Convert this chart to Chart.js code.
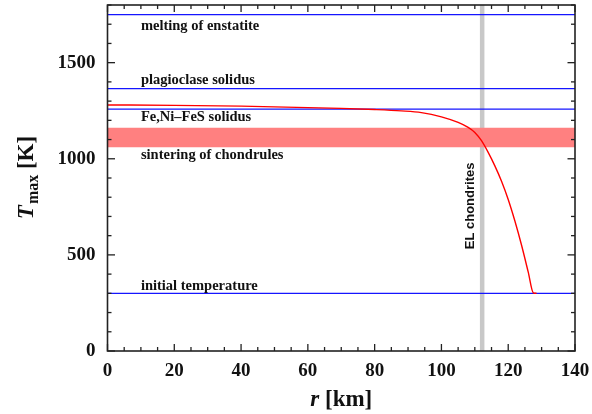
<!DOCTYPE html>
<html>
<head>
<meta charset="utf-8">
<title>Peak temperature profile</title>
<script src="https://cdn.jsdelivr.net/npm/chart.js@4"></script>
<style>
  html, body { margin: 0; padding: 0; background: #fff; }
  #wrap { width: 592px; height: 414px; position: relative; }
</style>
</head>
<body>
<div id="wrap"><canvas id="tmax" width="592" height="414"></canvas></div>
<script>
'use strict';

// peak temperature vs. radius
const radiusKm = [0, 20, 40, 60, 70, 80, 88, 94, 100, 105, 108, 110, 112, 114, 116, 118, 120, 122, 124, 126, 127.5, 128.5];
const tMaxK    = [1280, 1278, 1274, 1266, 1262, 1256, 1249, 1240, 1218, 1189, 1163, 1137, 1094, 1033, 963, 883, 788, 676, 550, 410, 303, 300];

// reference temperatures
const levelNames = ['melting of enstatite', 'plagioclase solidus', 'Fe,Ni\u2013FeS solidus', 'initial temperature'];
const levelTemps = [1750, 1365, 1258, 300];
const sinterName = 'sintering of chondrules';
const sinterBand = [1060, 1162];

// EL chondrite radius
const elName = 'EL chondrites';
const elRadius = 112.2;

const xTicks = [0, 20, 40, 60, 80, 100, 120, 140];
const yTicks = [0, 500, 1000, 1500];
const xRange = [0, 140];
const yRange = [0, 1800];

const SERIF = '"Liberation Serif", "Times New Roman", serif';
const SANS = '"Liberation Sans", Arial, sans-serif';

const seg = (x0, x1, y0, y1) => [{ x: x0, y: y0 }, { x: x1, y: y1 }];

const datasets = [
  { data: seg(elRadius, elRadius, yRange[0], yRange[1]), borderColor: '#c8c8c8', borderWidth: 4.5, order: 10 },
  { data: seg(xRange[0], xRange[1], sinterBand[1], sinterBand[1]), borderWidth: 0, borderColor: 'rgba(0,0,0,0)',
    backgroundColor: '#ff8080', fill: { value: sinterBand[0] }, order: 9 },
  ...levelTemps.map(t => ({ data: seg(xRange[0], xRange[1], t, t), borderColor: '#1515ff', borderWidth: 1.3, order: 5 })),
  { data: radiusKm.map((r, i) => ({ x: r, y: tMaxK[i] })), borderColor: '#ff0000', borderWidth: 1.4,
    cubicInterpolationMode: 'monotone', order: 1 },
];

// no extra room for overhanging tick labels
const noPad = s => { s.paddingTop = 0; s.paddingBottom = 0; s.paddingLeft = 0; s.paddingRight = 0; };

// frame, inward ticks, annotations and axis titles
const decor = {
  id: 'decor',
  afterDatasetsDraw(chart) {
    const { ctx, chartArea: a, scales: { x, y } } = chart;
    ctx.save();
    ctx.strokeStyle = '#222';
    ctx.lineWidth = 1.3;
    const tick = (x0, y0, x1, y1) => { ctx.beginPath(); ctx.moveTo(x0, y0); ctx.lineTo(x1, y1); ctx.stroke(); };
    for (let v = xRange[0]; v <= xRange[1]; v += 5) {
      const px = x.getPixelForValue(v);
      const len = xTicks.includes(v) ? 7 : 4;
      tick(px, a.bottom, px, a.bottom - len);
      tick(px, a.top, px, a.top + len);
    }
    for (let v = yRange[0]; v <= yRange[1]; v += 100) {
      const py = y.getPixelForValue(v);
      const len = yTicks.includes(v) ? 7.5 : 4;
      tick(a.left, py, a.left + len, py);
      tick(a.right, py, a.right - len, py);
    }
    ctx.lineWidth = 1.6;
    ctx.strokeRect(a.left, a.top, a.right - a.left, a.bottom - a.top);

    // level labels, offset above/below their line
    const offsets = [12, -8, 8, -7];
    ctx.fillStyle = '#111';
    ctx.font = 'bold 14.5px ' + SERIF;
    ctx.textAlign = 'left';
    ctx.textBaseline = 'middle';
    const lx = x.getPixelForValue(10);
    levelNames.forEach((name, i) => ctx.fillText(name, lx, y.getPixelForValue(levelTemps[i]) + offsets[i]));
    ctx.fillText(sinterName, lx, y.getPixelForValue(sinterBand[0]) + 8.5);

    // vertical EL chondrites label
    ctx.save();
    ctx.translate(x.getPixelForValue(elRadius) - 11.5, y.getPixelForValue(755));
    ctx.rotate(-Math.PI / 2);
    ctx.font = 'bold 13px ' + SANS;
    ctx.textAlign = 'center';
    ctx.fillText(elName, 0, 0);
    ctx.restore();
    ctx.restore();
  },
  afterDraw(chart) {
    const { ctx, chartArea: a } = chart;
    ctx.save();
    ctx.fillStyle = '#111';
    ctx.textBaseline = 'alphabetic';

    // x title: r [km]
    const big = 23;
    ctx.font = 'italic bold ' + big + 'px ' + SERIF;
    const wr = ctx.measureText('r').width;
    ctx.font = 'bold ' + big + 'px ' + SERIF;
    const wk = ctx.measureText(' [km]').width;
    let sx = (a.left + a.right) / 2 - (wr + wk) / 2;
    ctx.font = 'italic bold ' + big + 'px ' + SERIF;
    ctx.fillText('r', sx, 406);
    ctx.font = 'bold ' + big + 'px ' + SERIF;
    ctx.fillText(' [km]', sx + wr, 406);

    // y title: T_max [K]
    ctx.translate(33, (a.top + a.bottom) / 2);
    ctx.rotate(-Math.PI / 2);
    ctx.font = 'italic bold ' + big + 'px ' + SERIF;
    const wT = ctx.measureText('T').width;
    ctx.font = 'bold 16px ' + SERIF;
    const wm = ctx.measureText('max').width;
    ctx.font = 'bold ' + big + 'px ' + SERIF;
    const wK = ctx.measureText(' [K]').width;
    sx = -(wT + wm + wK) / 2;
    ctx.font = 'italic bold ' + big + 'px ' + SERIF;
    ctx.fillText('T', sx, 0);
    ctx.font = 'bold 16px ' + SERIF;
    ctx.fillText('max', sx + wT + 1, 5);
    ctx.font = 'bold ' + big + 'px ' + SERIF;
    ctx.fillText(' [K]', sx + wT + wm + 1, 0);
    ctx.restore();
  },
};

new Chart(document.getElementById('tmax'), {
  type: 'line',
  data: { datasets },
  options: {
    responsive: false,
    animation: false,
    devicePixelRatio: 1,
    layout: { padding: { left: 0, right: 17, top: 5, bottom: 0 } },
    elements: { point: { radius: 0 }, line: { tension: 0 } },
    plugins: { legend: { display: false }, tooltip: { enabled: false } },
    scales: {
      x: {
        type: 'linear', min: xRange[0], max: xRange[1],
        grid: { display: false, drawTicks: false }, border: { display: false },
        afterBuildTicks: s => { s.ticks = xTicks.map(v => ({ value: v })); },
        afterFit: s => { s.height = 63; noPad(s); },
        ticks: { color: '#111', padding: 9, maxRotation: 0, callback: v => String(v),
          font: { family: SERIF, size: 19, weight: 'bold' } },
      },
      y: {
        type: 'linear', min: yRange[0], max: yRange[1],
        grid: { display: false, drawTicks: false }, border: { display: false },
        afterBuildTicks: s => { s.ticks = yTicks.map(v => ({ value: v })); },
        afterFit: s => { s.width = 107.5; noPad(s); },
        ticks: { color: '#111', padding: 12, callback: v => String(v),
          font: { family: SERIF, size: 19, weight: 'bold' } },
      },
    },
  },
  plugins: [decor],
});
</script>
</body>
</html>
